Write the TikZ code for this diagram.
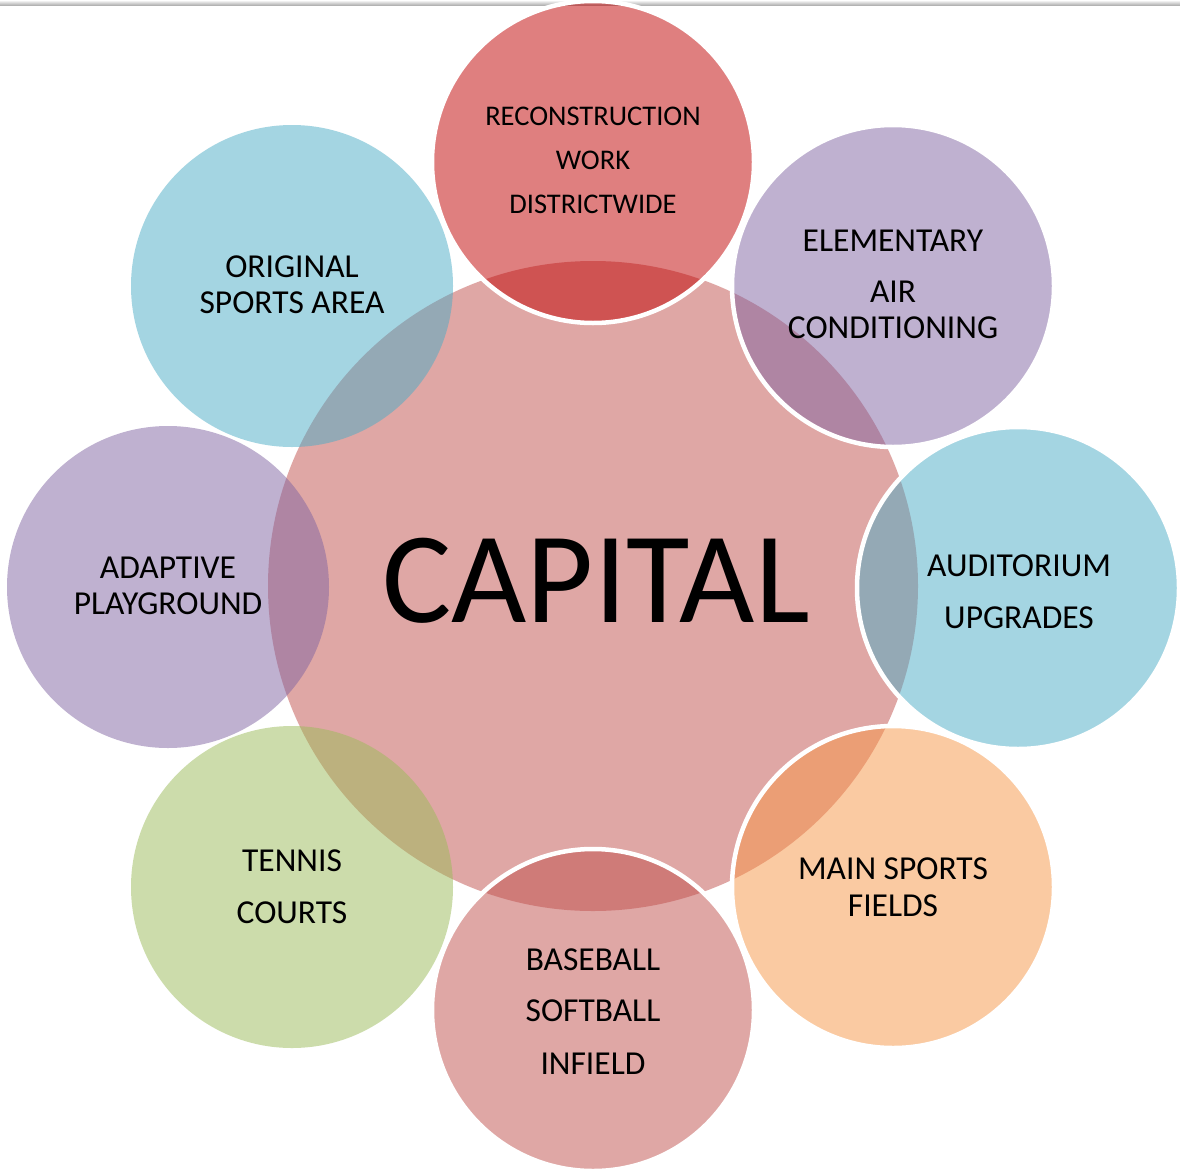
\documentclass[tikz,border=0pt]{standalone}
\usepackage{fontspec}
\setmainfont{Carlito}
\definecolor{cRed}{HTML}{C00000}
\definecolor{cRose}{HTML}{C0504D}
\definecolor{cPurple}{HTML}{8064A2}
\definecolor{cBlue}{HTML}{4BACC6}
\definecolor{cOrange}{HTML}{F79646}
\definecolor{cGreen}{HTML}{9BBB59}
\begin{document}
\begin{tikzpicture}[x=1pt,y=-1pt,
  sat/.style={circle, minimum size=322pt, inner sep=0pt, fill opacity=0.5},
  rim/.style={draw=white, line width=4.5pt},
  lbl/.style={anchor=base, inner sep=0pt, text=black, font=\fontsize{33.5}{38}\selectfont},
  slbl/.style={anchor=base, inner sep=0pt, text=black, font=\fontsize{28.5}{32}\selectfont}]
\useasboundingbox (0,0) rectangle (1180,1170);
\fill[white] (0,0) rectangle (1180,1170);
\shade[top color=black!30, bottom color=white, shading angle=180] (0,0) rectangle (1180,5);
% central circle
\node[circle, minimum size=650pt, inner sep=0pt, fill=cRose, fill opacity=0.5] (center) at (593,586) {};
% satellites
\node[sat, fill=cRed, rim] (top) at (593,162) {};
\node[sat, fill=cPurple, rim] (tr) at (893,286) {};
\node[sat, fill=cBlue, rim] (right) at (1018,588) {};
\node[sat, fill=cOrange, rim] (br) at (893,887) {};
\node[sat, fill=cRose, rim] (bottom) at (593,1010) {};
\node[sat, fill=cGreen] (bl) at (292,887) {};
\node[sat, fill=cPurple] (left) at (168,587) {};
\node[sat, fill=cBlue] (tl) at (292,286) {};
% labels
\node[anchor=base, inner sep=0pt, font=\fontsize{130}{140}\selectfont] (cap) at (596,622) {CAPITAL};
\node[slbl] (t1) at (593,125) {RECONSTRUCTION};
\node[slbl] (t2) at (593,169) {WORK};
\node[slbl] (t3) at (593,213) {DISTRICTWIDE};
\node[lbl] (e1) at (893,251) {ELEMENTARY};
\node[lbl] (e2) at (893,302) {AIR};
\node[lbl] (e3) at (893,338) {CONDITIONING};
\node[lbl] (a1) at (1019,576) {AUDITORIUM};
\node[lbl] (a2) at (1019,628) {UPGRADES};
\node[lbl] (m1) at (893,879) {MAIN SPORTS};
\node[lbl] (m2) at (893,916) {FIELDS};
\node[lbl] (b1) at (593,970) {BASEBALL};
\node[lbl] (b2) at (593,1021) {SOFTBALL};
\node[lbl] (b3) at (593,1074) {INFIELD};
\node[lbl] (n1) at (292,871) {TENNIS};
\node[lbl] (n2) at (292,923) {COURTS};
\node[lbl] (p1) at (168,578) {ADAPTIVE};
\node[lbl] (p2) at (168,614) {PLAYGROUND};
\node[lbl] (o1) at (292,277) {ORIGINAL};
\node[lbl] (o2) at (292,313) {SPORTS AREA};
\end{tikzpicture}
\end{document}
